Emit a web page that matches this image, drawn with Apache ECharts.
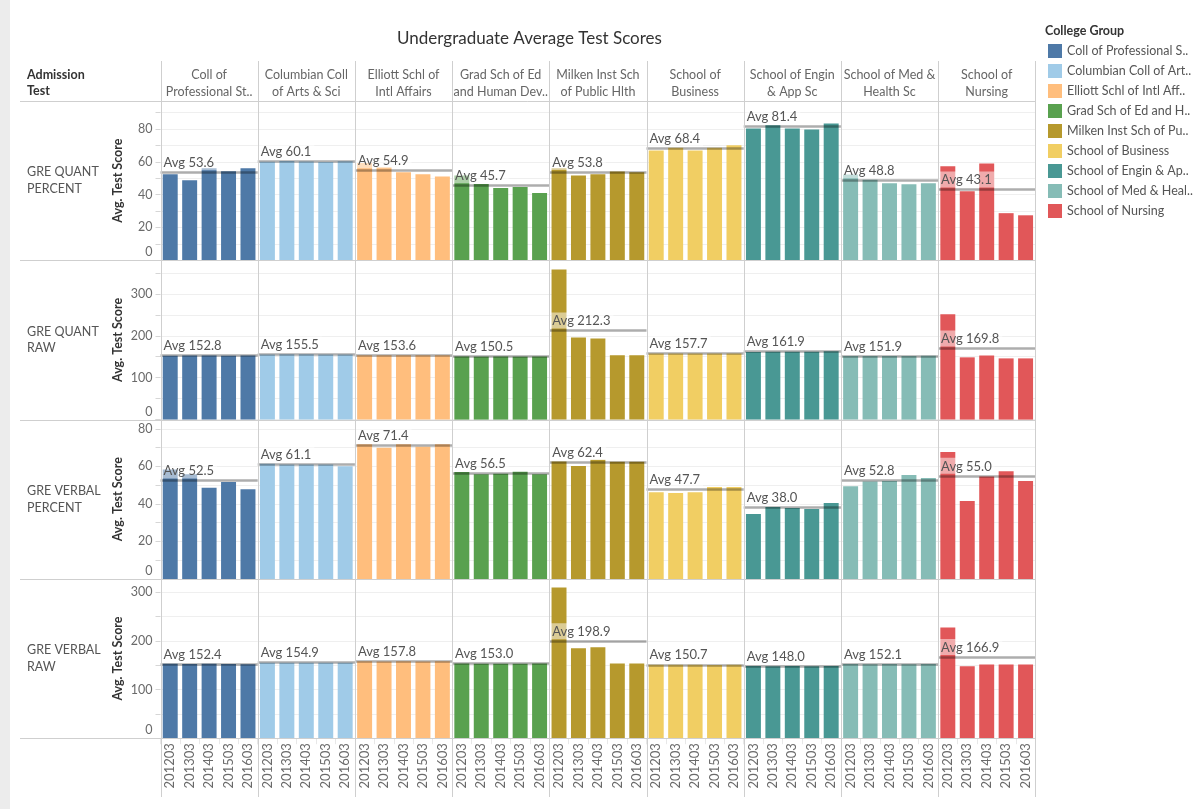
<!DOCTYPE html>
<html><head><meta charset="utf-8">
<script src="https://cdn.jsdelivr.net/npm/echarts@6/dist/echarts.min.js"></script>
<style>html,body{margin:0;padding:0;background:#fff}#c{width:1200px;height:809px}</style>
</head><body><div id="c"></div>
<script>
// ---------------- DATA ----------------
const years = ['201203', '201303', '201403', '201503', '201603'];
const colleges = ['Coll of Professional Studies', 'Columbian Coll of Arts & Sci', 'Elliott Schl of Intl Affairs',
  'Grad Sch of Ed and Human Dev', 'Milken Inst Sch of Public Hlth', 'School of Business',
  'School of Engin & App Sc', 'School of Med & Health Sc', 'School of Nursing'];
const legendLabels = ['Coll of Professional S..', 'Columbian Coll of Art..', 'Elliott Schl of Intl Aff..',
  'Grad Sch of Ed and H..', 'Milken Inst Sch of Pu..', 'School of Business',
  'School of Engin & Ap..', 'School of Med & Heal..', 'School of Nursing'];
const columnHeaders = ['Coll of\nProfessional St..', 'Columbian Coll\nof Arts & Sci', 'Elliott Schl of\nIntl Affairs',
  'Grad Sch of Ed\nand Human Dev..', 'Milken Inst Sch\nof Public Hlth', 'School of\nBusiness',
  'School of Engin\n& App Sc', 'School of Med &\nHealth Sc', 'School of\nNursing'];
const admissionTests = ['GRE QUANT\nPERCENT', 'GRE QUANT\nRAW', 'GRE VERBAL\nPERCENT', 'GRE VERBAL\nRAW'];
const collegeColors = ['#4e79a7', '#a0cbe8', '#ffbe7d', '#59a14f', '#b6992d', '#f1ce63', '#499894', '#86bcb6', '#e15759'];

const greQuantPercent = [
  [52.4, 48.7, 56.0, 54.2, 56.0],
  [60.0, 60.5, 60.1, 59.8, 60.3],
  [59.2, 56.6, 53.6, 52.4, 51.1],
  [51.7, 46.5, 44.0, 44.6, 41.0],
  [56.0, 51.7, 52.4, 54.0, 53.6],
  [66.9, 68.6, 66.9, 68.6, 70.0],
  [80.3, 82.3, 80.3, 79.7, 83.3],
  [52.2, 49.1, 46.9, 46.3, 46.9],
  [57.2, 42.0, 59.0, 28.7, 27.4]
];
const greQuantRaw = [
  [152.6, 152.9, 153.0, 152.5, 152.8],
  [155.3, 155.8, 155.6, 155.2, 155.5],
  [153.8, 153.4, 153.7, 153.3, 153.6],
  [150.7, 150.3, 150.6, 150.2, 150.5],
  [358.0, 196.0, 193.5, 153.5, 153.5],
  [157.5, 157.9, 157.6, 157.8, 157.7],
  [161.5, 161.8, 161.7, 161.6, 162.9],
  [151.8, 152.0, 151.9, 151.7, 152.1],
  [251.5, 148.5, 153.0, 146.0, 146.0]
];
const greVerbalPercent = [
  [58.4, 55.8, 48.6, 51.7, 47.9],
  [61.5, 61.1, 61.0, 61.0, 60.1],
  [71.8, 70.0, 71.8, 70.5, 71.8],
  [57.0, 55.8, 56.1, 57.2, 55.8],
  [62.7, 60.2, 63.6, 62.5, 62.5],
  [46.3, 45.8, 46.3, 49.0, 49.0],
  [34.6, 38.3, 37.8, 37.3, 40.5],
  [49.5, 52.0, 52.2, 55.4, 53.8],
  [67.7, 41.5, 54.7, 57.5, 52.2]
];
const greVerbalRaw = [
  [152.6, 152.4, 152.7, 152.5, 151.6],
  [154.8, 155.1, 154.9, 154.7, 155.0],
  [157.9, 157.6, 157.9, 157.5, 158.0],
  [153.1, 152.9, 153.0, 152.8, 153.1],
  [309.3, 184.6, 186.7, 153.2, 153.2],
  [150.8, 150.6, 150.7, 150.5, 150.8],
  [148.1, 147.9, 148.0, 147.8, 148.2],
  [152.2, 152.0, 152.1, 151.9, 152.3],
  [227.1, 147.6, 151.1, 151.1, 151.1]
];
const avgQuantPercent = [53.6, 60.1, 54.9, 45.7, 53.8, 68.4, 81.4, 48.8, 43.1];
const avgQuantRaw = [152.8, 155.5, 153.6, 150.5, 212.3, 157.7, 161.9, 151.9, 169.8];
const avgVerbalPercent = [52.5, 61.1, 71.4, 56.5, 62.4, 47.7, 38.0, 52.8, 55.0];
const avgVerbalRaw = [152.4, 154.9, 157.8, 153.0, 198.9, 150.7, 148.0, 152.1, 166.9];

// ---------------- LAYOUT ----------------
const rowsData = [greQuantPercent, greQuantRaw, greVerbalPercent, greVerbalRaw];
const rowsAvg = [avgQuantPercent, avgQuantRaw, avgVerbalPercent, avgVerbalRaw];
const rowAxes = [
  { max: 97, step: 10, labelStep: 20 },
  { max: 380, step: 50, labelStep: 100 },
  { max: 85, step: 10, labelStep: 20 },
  { max: 327, step: 50, labelStep: 100 }
];
const FONT = 'Lato, "Liberation Sans", sans-serif';
const COL0 = 160.5, COLW = 97.2, ROW0 = 101, ROWH = 159.3;
const LINE = '#cfcfcf';

const grids = [], xAxes = [], yAxes = [], series = [];
for (let r = 0; r < 4; r++) {
  for (let c = 0; c < 9; c++) {
    const idx = r * 9 + c;
    const ax = rowAxes[r];
    grids.push({ left: COL0 + c * COLW, top: ROW0 + r * ROWH, width: COLW, height: ROWH,
      show: false, containLabel: false, outerBoundsMode: 'none' });
    xAxes.push({
      type: 'category', gridIndex: idx, data: years,
      axisLine: { show: false },
      axisTick: { show: r === 3, length: 6, lineStyle: { color: '#e8e8e8' } },
      axisLabel: { show: r === 3, interval: 0, rotate: 90, margin: 5, fontSize: 13,
        color: '#6a6a6a', fontFamily: FONT },
      splitLine: { show: false }
    });
    yAxes.push({
      type: 'value', gridIndex: idx, min: 0, max: ax.max, interval: ax.step,
      axisLine: { show: false },
      axisTick: { show: c === 0, length: 5, lineStyle: { color: '#d6d6d6' } },
      axisLabel: {
        show: c === 0, margin: 8, fontSize: 12.5, color: '#6a6a6a', fontFamily: FONT,
        formatter: v => (v % ax.labelStep !== 0 || v > ax.max - 1) ? '' : (v === 0 ? '{z|0}' : String(v)),
        rich: { z: { padding: [0, 0, 16, 0], fontSize: 12.5, color: '#6a6a6a', fontFamily: FONT } }
      },
      splitLine: { show: true, lineStyle: { color: '#efefef', width: 1 } },
      name: c === 0 ? 'Avg. Test Score' : '', nameLocation: 'middle', nameGap: 36,
      nameTextStyle: { fontSize: 12.5, color: '#333', fontFamily: FONT, fontWeight: 'bold' }
    });
    const avg = rowsAvg[r][c];
    series.push({
      type: 'bar', name: colleges[c], xAxisIndex: idx, yAxisIndex: idx,
      data: rowsData[r][c], barWidth: '77%', silent: true,
      itemStyle: { color: collegeColors[c] },
      emphasis: { disabled: true },
      markLine: {
        silent: true, symbol: 'none', animation: false,
        data: [{ yAxis: avg }],
        lineStyle: { color: 'rgba(0,0,0,0.32)', width: 2.5, type: 'solid' },
        emphasis: { disabled: true },
        label: {
          show: true, position: 'insideStartTop', formatter: 'Avg ' + avg.toFixed(1),
          color: '#555', fontSize: 13, fontFamily: FONT,
          backgroundColor: 'rgba(255,255,255,0.5)', padding: [2, 3, 1, 2], distance: [1, 2]
        }
      }
    });
  }
}

// static decoration: borders, headers
const graphics = [];
graphics.push({ type: 'rect', shape: { x: 0, y: 0, width: 10, height: 809 }, style: { fill: '#ececec' }, z: 1 });
graphics.push({ type: 'text', x: 529.5, y: 39, z: 10,
  style: { text: 'Undergraduate Average Test Scores', font: '17px ' + FONT, fill: '#333', align: 'center', verticalAlign: 'middle' } });
graphics.push({ type: 'text', x: 27, y: 83, z: 10,
  style: { text: 'Admission\nTest', font: 'bold 12.5px ' + FONT, fill: '#333', verticalAlign: 'middle', lineHeight: 16 } });
columnHeaders.forEach((t, c) => graphics.push({ type: 'text', x: COL0 + (c + 0.5) * COLW, y: 83.5, z: 10,
  style: { text: t, font: '12.5px ' + FONT, fill: '#666', align: 'center', verticalAlign: 'middle', lineHeight: 17 } }));
admissionTests.forEach((t, r) => graphics.push({ type: 'text', x: 27, y: ROW0 + (r + 0.5) * ROWH, z: 10,
  style: { text: t, font: '12.5px ' + FONT, fill: '#555', verticalAlign: 'middle', lineHeight: 16.5 } }));
graphics.push({ type: 'text', x: 1045, y: 31, z: 10,
  style: { text: 'College Group', font: 'bold 12.5px ' + FONT, fill: '#333', verticalAlign: 'middle' } });
for (let r = 0; r <= 4; r++) {
  const y = Math.round(ROW0 + r * ROWH) + 0.5;
  graphics.push({ type: 'line', z: 50, shape: { x1: 20, y1: y, x2: COL0 + 9 * COLW, y2: y }, style: { stroke: LINE, lineWidth: 1 } });
}
for (let c = 0; c <= 9; c++) {
  const x = Math.round(COL0 + c * COLW) + 0.5;
  graphics.push({ type: 'line', z: 50, shape: { x1: x, y1: 61, x2: x, y2: 797 }, style: { stroke: LINE, lineWidth: 1 } });
}

const chart = echarts.init(document.getElementById('c'), null, { renderer: 'canvas' });
chart.setOption({
  animation: false,
  backgroundColor: '#fff',
  grid: grids, xAxis: xAxes, yAxis: yAxes, series: series,
  legend: {
    data: colleges, orient: 'vertical', left: 1048, top: 44, itemWidth: 14, itemHeight: 14, itemGap: 6,
    icon: 'rect', selectedMode: false, padding: 0,
    textStyle: { color: '#555', fontSize: 12.5, fontFamily: FONT },
    formatter: name => legendLabels[colleges.indexOf(name)]
  },
  graphic: graphics
});
</script></body></html>
